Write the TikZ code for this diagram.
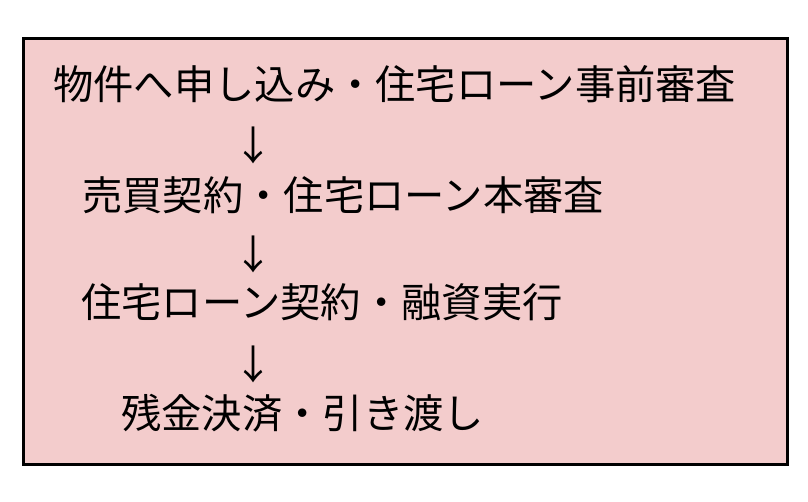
\documentclass[tikz,border=0pt]{standalone}
\usepackage{fontspec}
\newfontfamily\cjk{Noto Sans CJK JP}
\definecolor{boxpink}{HTML}{F3CCCC}
\begin{document}
\begin{tikzpicture}[x=1pt,y=-1pt,
  line/.style={anchor=west,inner sep=0pt,font=\cjk\fontsize{40.3}{41}\selectfont},
  arr/.style={anchor=center,inner sep=0pt,font=\cjk\fontsize{40}{41}\selectfont}]
\useasboundingbox (0,0) rectangle (808,501);
\draw[line width=3pt,fill=boxpink] (23.5,38.5) rectangle (787.5,464.5);
\node[line] (s1) at (53,84) {物件へ申し込み・住宅ローン事前審査};
\node[arr] (a1) at (253,145) {↓};
\node[line] (s2) at (82,195) {売買契約・住宅ローン本審査};
\node[arr] (a2) at (253,254) {↓};
\node[line] (s3) at (81,302) {住宅ローン契約・融資実行};
\node[arr] (a3) at (253,364) {↓};
\node[line] (s4) at (121,413) {残金決済・引き渡し};
\end{tikzpicture}
\end{document}
